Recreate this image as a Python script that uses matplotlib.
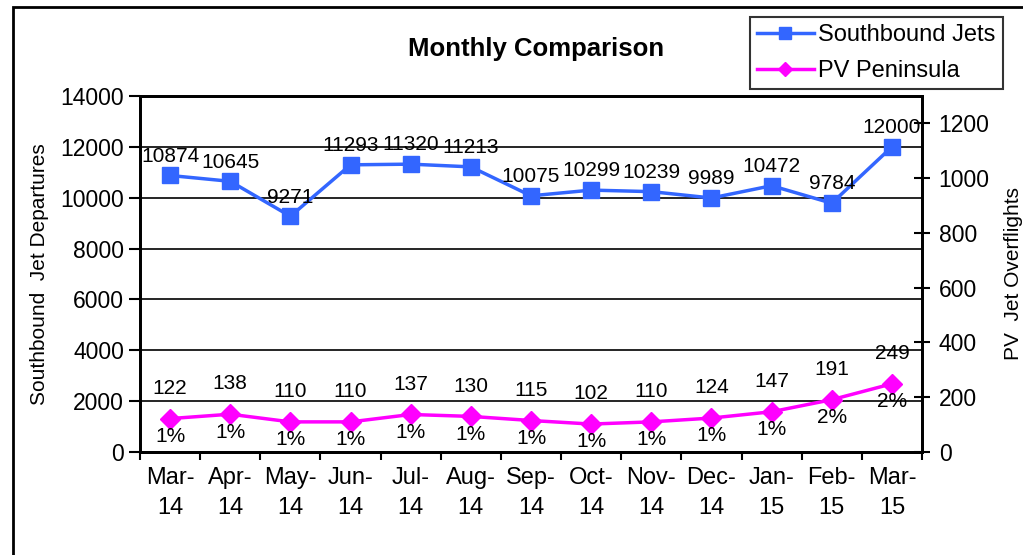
import matplotlib
matplotlib.use("Agg")
import matplotlib.pyplot as plt
from matplotlib.patches import Rectangle

plt.rcParams["font.family"] = ["Liberation Sans", "DejaVu Sans"]

months = ["Mar-\n14", "Apr-\n14", "May-\n14", "Jun-\n14", "Jul-\n14", "Aug-\n14", "Sep-\n14",
          "Oct-\n14", "Nov-\n14", "Dec-\n14", "Jan-\n15", "Feb-\n15", "Mar-\n15"]
southbound = [10874, 10645, 9271, 11293, 11320, 11213, 10075, 10299, 10239, 9989, 10472, 9784, 12000]
pv = [122, 138, 110, 110, 137, 130, 115, 102, 110, 124, 147, 191, 249]
pv_pct = ["1%", "1%", "1%", "1%", "1%", "1%", "1%", "1%", "1%", "1%", "1%", "2%", "2%"]

BLUE = "#3366FF"
PINK = "#FF00FF"

fig = plt.figure(figsize=(10.23, 5.55), dpi=100)
ax = fig.add_axes([140 / 1023, 1 - 452 / 555, 782 / 1023, 356 / 555])
ax2 = ax.twinx()

x = list(range(len(months)))
l1, = ax.plot(x, southbound, color=BLUE, lw=2.5, marker="s", ms=12, label="Southbound Jets", zorder=3)
l2, = ax2.plot(x, pv, color=PINK, lw=2.5, marker="D", ms=10, label="PV Peninsula", zorder=3)

for i, v in enumerate(southbound):
    ax.annotate(str(v), (i, v), xytext=(0, 7), textcoords="offset points",
                ha="center", va="bottom", fontsize=15)
for i, v in enumerate(pv):
    ax2.annotate(str(v), (i, v), xytext=(0, 15), textcoords="offset points",
                 ha="center", va="bottom", fontsize=15)
    ax2.annotate(pv_pct[i], (i, v), xytext=(0, -6), textcoords="offset points",
                 ha="center", va="top", fontsize=15)

ax.set_xlim(-0.5, 12.5)
ax.set_ylim(0, 14000)
ax.set_yticks(range(0, 14001, 2000))
ax2.set_ylim(0, 1300)
ax2.set_yticks(range(0, 1201, 200))

ax.set_xticks([i - 0.5 for i in range(len(months) + 1)])
ax.set_xticklabels([])
ax.set_xticks(x, minor=True)
ax.set_xticklabels(months, minor=True, fontsize=17, linespacing=1.45)
ax.tick_params(axis="x", which="minor", length=0, pad=11)
ax.tick_params(axis="x", which="major", direction="out", length=6, width=1.5)
ax.tick_params(axis="y", direction="out", length=8, width=1.5, labelsize=16.5)
ax2.tick_params(axis="y", direction="inout", length=12, width=1.5, labelsize=16.5, pad=6)

ax.grid(axis="y", color="black", lw=1.2)
for a in (ax, ax2):
    for s in a.spines.values():
        s.set_linewidth(2)

ax.set_ylabel("Southbound  Jet Departures", fontsize=15, labelpad=8)
ax2.set_ylabel("PV  Jet Overflights", fontsize=15, labelpad=10)

fig.text(536 / 1023, 1 - 49 / 555, "Monthly Comparison", ha="center", va="center",
         fontsize=18.5, fontweight="bold")

leg = fig.legend(handles=[l1, l2], loc="upper left", bbox_to_anchor=(750 / 1023, 1 - 17 / 555),
                 fontsize=17, frameon=True, fancybox=False, edgecolor="black",
                 handlelength=2.4, borderpad=0.3, labelspacing=0.6, handletextpad=0.2,
                 borderaxespad=0, markerscale=0.75)
leg.get_frame().set_linewidth(1.5)

fig.add_artist(Rectangle((13 / 1023, -0.1), 1.2, 1.1 - 7 / 555, transform=fig.transFigure,
                         fill=False, edgecolor="black", lw=2, clip_on=False))

fig.savefig("out.png", dpi=100)
